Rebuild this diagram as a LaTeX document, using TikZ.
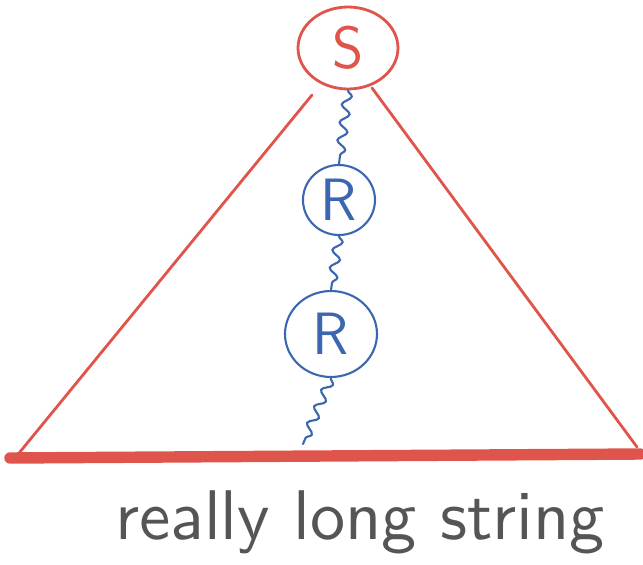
\documentclass[tikz,border=0pt]{standalone}
\usetikzlibrary{shapes.geometric,decorations.pathmorphing}
\definecolor{penred}{HTML}{E0554B}
\definecolor{penblue}{HTML}{3A67B0}
\definecolor{pengray}{HTML}{555555}
\begin{document}
\begin{tikzpicture}[x=0.02cm,y=-0.02cm,
  redpen/.style={draw=penred,line width=1.6pt,line cap=round},
  bluepen/.style={draw=penblue,line width=1.2pt,line cap=round},
  wig/.style={bluepen,decorate,decoration={snake,amplitude=0.09cm,segment length=0.36cm}},
  circ/.style={ellipse,inner sep=0pt,font=\sffamily\fontsize{34}{34}\selectfont}]
\useasboundingbox (0,0) rectangle (643,565);
\node[circ,redpen,text=penred,minimum width=2.0cm,minimum height=1.64cm] (S) at (348,48) {S};
\node[circ,bluepen,text=penblue,minimum width=1.44cm,minimum height=1.4cm] (R1) at (339,200) {R};
\node[circ,bluepen,text=penblue,minimum width=1.84cm,minimum height=1.72cm] (R2) at (331,334) {R};
\coordinate (tl) at (312,95);
\coordinate (tr) at (372,88);
\coordinate (bl) at (15,458);
\coordinate (br) at (637,447);
\coordinate (bb) at (10,458);
\coordinate (be) at (640,454);
\coordinate (wend) at (303,444);
\draw[redpen] (tl) -- (bl);
\draw[redpen] (tr) -- (br);
\draw[redpen,line width=6.5pt] (bb) -- (be);
\draw[wig] (S.south) -- (R1.north);
\draw[wig] (R1.south) -- (R2.north);
\draw[wig] (R2.south) -- (wend);
\node[text=pengray,font=\sffamily] (lbl) at (360,522) {\resizebox{9.8cm}{!}{really long string}};
\end{tikzpicture}
\end{document}
